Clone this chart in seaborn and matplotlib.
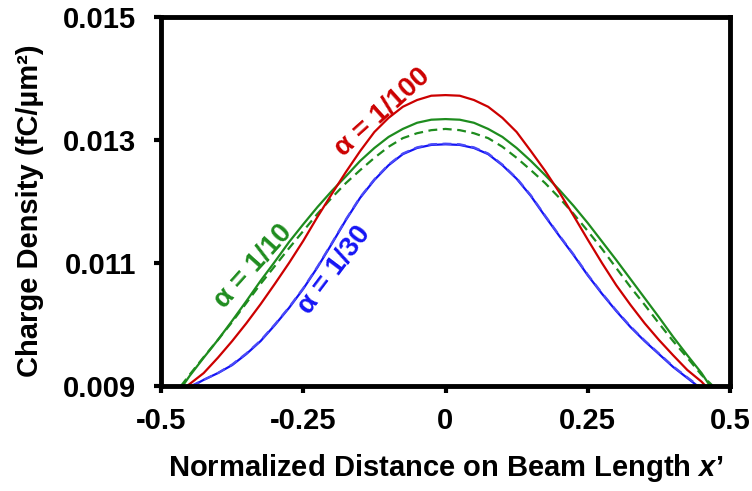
import numpy as np
import pandas as pd
import matplotlib
matplotlib.use("Agg")
import matplotlib.pyplot as plt
import seaborn as sns

# ---- data (x' positions and charge densities) ----
x_grid = [-0.45, -0.425, -0.4, -0.375, -0.35, -0.325, -0.3, -0.275, -0.25, -0.225,
          -0.2, -0.175, -0.15, -0.125, -0.1, -0.075, -0.05, -0.025, 0.0,
          0.025, 0.05, 0.075, 0.1, 0.125, 0.15, 0.175, 0.2, 0.225, 0.25,
          0.275, 0.3, 0.325, 0.35, 0.375, 0.4, 0.425, 0.45]

red_100 = [0.00903, 0.00921, 0.00946, 0.00973, 0.01002, 0.01033, 0.01066, 0.01100, 0.01136, 0.01175,
           0.01212, 0.01248, 0.01282, 0.01313, 0.01336, 0.01354, 0.01365, 0.01372, 0.01373,
           0.01372, 0.01365, 0.01354, 0.01336, 0.01313, 0.01282, 0.01250, 0.01215, 0.01177, 0.01138,
           0.01100, 0.01064, 0.01032, 0.01002, 0.00975, 0.00950, 0.00926, 0.00907]
red_100_feet = [-0.455, 0.457]

green_10 = [0.00916, 0.00946, 0.00975, 0.01006, 0.01038, 0.01071, 0.01102, 0.01134, 0.01163, 0.01191,
            0.01217, 0.01241, 0.01266, 0.01287, 0.01305, 0.01318, 0.01328, 0.01333, 0.01334,
            0.01333, 0.01328, 0.01318, 0.01305, 0.01287, 0.01266, 0.01243, 0.01219, 0.01193, 0.01165,
            0.01135, 0.01105, 0.01074, 0.01043, 0.01012, 0.00980, 0.00950, 0.00921]
green_10_feet = [-0.462, 0.465]

green_10_dash = [0.00918, 0.00947, 0.00975, 0.01004, 0.01035, 0.01066, 0.01095, 0.01124, 0.01152, 0.01180,
                 0.01206, 0.01230, 0.01251, 0.01271, 0.01289, 0.01303, 0.01311, 0.01316, 0.01318,
                 0.01316, 0.01311, 0.01303, 0.01289, 0.01271, 0.01251, 0.01230, 0.01206, 0.01180, 0.01152,
                 0.01123, 0.01092, 0.01061, 0.01032, 0.01002, 0.00973, 0.00946, 0.00918]
green_10_dash_feet = [-0.465, 0.470]

blue_30 = [np.nan, 0.00910, 0.00921, 0.00934, 0.00952, 0.00973, 0.00999, 0.01027, 0.01058, 0.01093,
           0.01131, 0.01170, 0.01206, 0.01235, 0.01259, 0.01277, 0.01287, 0.01292, 0.01293,
           0.01292, 0.01287, 0.01277, 0.01259, 0.01237, 0.01209, 0.01176, 0.01144, 0.01113, 0.01080,
           0.01050, 0.01022, 0.00996, 0.00973, 0.00952, 0.00931, 0.00913, np.nan]
blue_30_feet = [-0.445, 0.443]

blue_30_dash = [np.nan, 0.00910, 0.00921, 0.00935, 0.00953, 0.00974, 0.01000, 0.01028, 0.01059, 0.01094,
                0.01132, 0.01171, 0.01207, 0.01236, 0.01260, 0.01278, 0.01288, 0.01293, 0.01294,
                0.01293, 0.01288, 0.01278, 0.01260, 0.01238, 0.01210, 0.01177, 0.01145, 0.01114, 0.01081,
                0.01051, 0.01023, 0.00997, 0.00974, 0.00953, 0.00932, 0.00914, np.nan]
blue_30_dash_feet = [-0.447, 0.445]

y_ticks = [0.009, 0.011, 0.013, 0.015]
y_tick_labels = ["0.009", "0.011", "0.013", "0.015"]
x_ticks = [-0.5, -0.25, 0, 0.25, 0.5]
x_tick_labels = ["-0.5", "-0.25", "0", "0.25", "0.5"]

labels = ["α = 1/100", "α = 1/10", "α = 1/30"]

# ---- styling ----
sns.set_theme(style="white")
plt.rcParams["font.family"] = ["Liberation Sans", "DejaVu Sans"]
plt.rcParams["font.weight"] = "bold"
plt.rcParams["mathtext.fontset"] = "custom"
plt.rcParams["mathtext.it"] = "Liberation Sans:bold:italic"
plt.rcParams["mathtext.rm"] = "Liberation Sans:bold"

RED = "#CC0000"
GREEN = "#1E8C1E"
BLUE = "#1414F5"


def series_frame(vals, feet):
    x = list(x_grid) + list(feet)
    y = list(vals) + [0.009, 0.009]
    df = pd.DataFrame({"x": x, "y": y}).dropna().sort_values("x")
    return df


fig = plt.figure(figsize=(7.52, 4.91), dpi=100)
ax = fig.add_axes([161 / 752, 1 - 386 / 491, (730 - 161) / 752, (386 - 17) / 491])

lw = 1.6
dash = (0, (4, 2.5))
sns.lineplot(data=series_frame(blue_30, blue_30_feet), x="x", y="y", ax=ax,
             color=BLUE, lw=lw, sort=False, estimator=None)
sns.lineplot(data=series_frame(blue_30_dash, blue_30_dash_feet), x="x", y="y", ax=ax,
             color="#4A4AF8", lw=lw, sort=False, estimator=None, linestyle=dash)
sns.lineplot(data=series_frame(green_10_dash, green_10_dash_feet), x="x", y="y", ax=ax,
             color=GREEN, lw=lw, sort=False, estimator=None, linestyle=dash)
sns.lineplot(data=series_frame(green_10, green_10_feet), x="x", y="y", ax=ax,
             color=GREEN, lw=lw, sort=False, estimator=None)
sns.lineplot(data=series_frame(red_100, red_100_feet), x="x", y="y", ax=ax,
             color=RED, lw=lw, sort=False, estimator=None)

ax.set_xlim(-0.5, 0.5)
ax.set_ylim(0.009, 0.015)
ax.set_xticks(x_ticks)
ax.set_xticklabels(x_tick_labels)
ax.set_yticks(y_ticks)
ax.set_yticklabels(y_tick_labels)

for s in ax.spines.values():
    s.set_visible(True)
    s.set_color("black")
    s.set_linewidth(3.5)

ax.tick_params(axis="both", which="major", direction="out", length=5, width=3,
               color="black", labelsize=21, labelcolor="black",
               bottom=True, left=True)
ax.tick_params(axis="y", pad=13)
ax.tick_params(axis="x", pad=10)
for t in ax.get_xticklabels() + ax.get_yticklabels():
    t.set_fontweight("bold")

ax.set_xlabel("Normalized Distance on Beam Length $x$\u2019", fontsize=21,
              fontweight="bold", color="black")
ax.set_ylabel("Charge Density (fC/\u00b5m\u00b2)", fontsize=21,
              fontweight="bold", color="black")
ax.xaxis.set_label_coords(0.5, -0.178)
ax.yaxis.set_label_coords(-0.205, 0.475)

ax.text(-0.111, 0.013455, labels[0], color=RED, fontsize=20, fontweight="bold",
        rotation=42, ha="center", va="center", rotation_mode="anchor")
ax.text(-0.337, 0.01095, labels[1], color=GREEN, fontsize=20, fontweight="bold",
        rotation=48, ha="center", va="center", rotation_mode="anchor")
ax.text(-0.195, 0.01089, labels[2], color=BLUE, fontsize=20, fontweight="bold",
        rotation=53, ha="center", va="center", rotation_mode="anchor")

ax.grid(False)
fig.savefig("out.png", dpi=100, facecolor="white")
